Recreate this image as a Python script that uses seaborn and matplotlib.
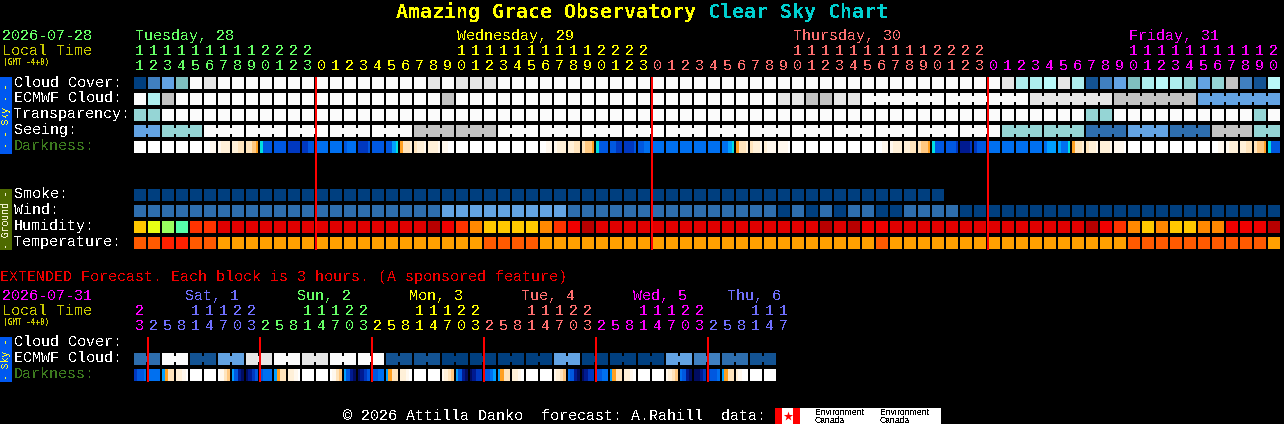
import matplotlib
matplotlib.use("Agg")
import matplotlib.pyplot as plt
import numpy as np
import seaborn as sns
from matplotlib.colors import ListedColormap
from matplotlib.patches import Rectangle

sns.set_theme(style="dark")
plt.rcParams["font.family"] = ["Liberation Mono", "DejaVu Sans Mono"]
plt.rcParams["text.antialiased"] = False

W, H = 1284, 424

# colour levels
SKY_COLORS = ["#003f7f", "#135393", "#2e6eae", "#4080c0", "#63a3e3", "#7fbfbf",
              "#95d5d5", "#aeeeee", "#b9f9f9", "#c2c2c2", "#e6e6e6", "#fbfbfb"]
HUMIDITY_COLORS = ["#b80000", "#e00000", "#f00000", "#ff3300", "#ff8800",
                   "#ffc800", "#e8ff14", "#99ff5f", "#55ffaa"]
TEMP_COLORS = ["#ff2000", "#ff5a00", "#ffa000"]
DARK_LEVELS = "wcdefgtsbmnkv"
DARK_COLORS = ["#ffffff", "#fff8ee", "#fff0d8", "#ffe4bc", "#ffc880", "#ffa020",
               "#00e0e0", "#00a0ff", "#0070f0", "#0058e0", "#0038c0", "#001a90",
               "#000c60"]

# main chart, one value per hour
HOURS = [11, 12, 13, 14, 15, 16, 17, 18, 19, 20, 21, 22, 23,
         0, 1, 2, 3, 4, 5, 6, 7, 8, 9, 10, 11, 12, 13, 14, 15, 16, 17, 18, 19, 20, 21, 22, 23,
         0, 1, 2, 3, 4, 5, 6, 7, 8, 9, 10, 11, 12, 13, 14, 15, 16, 17, 18, 19, 20, 21, 22, 23,
         0, 1, 2, 3, 4, 5, 6, 7, 8, 9, 10, 11, 12, 13, 14, 15, 16, 17, 18, 19, 20]
CLOUD = [0, 3, 4, 5, 11, 10, 11, 11, 11, 11, 11, 11, 11,
         11, 11, 11, 11, 11, 11, 11, 11, 10, 11, 10, 10, 10, 11, 11, 11, 11, 11, 11, 11, 11, 11, 11, 11,
         11, 11, 11, 11, 11, 11, 11, 11, 11, 11, 11, 11, 11, 11, 11, 11, 11, 11, 11, 11, 11, 11, 11, 11,
         11, 10, 7, 7, 8, 10, 7, 1, 3, 4, 5, 7, 8, 7, 6, 4, 6, 9, 3, 1, 8]
ECMWF = [11, 7, 9, 11, 11, 11, 11, 11, 11, 11, 11, 11, 11,
         11, 11, 11, 11, 11, 11, 11, 11, 11, 9, 11, 11, 11, 11, 11, 11, 11, 11, 11, 11, 11, 11, 11, 11,
         11, 11, 11, 11, 11, 11, 11, 11, 11, 10, 10, 9, 9, 10, 10, 11, 11, 11, 11, 11, 11, 11, 11, 11,
         11, 11, 11, 10, 10, 10, 10, 10, 10, 9, 9, 9, 9, 9, 9, 4, 4, 4, 4, 4, 4]
TRANSPARENCY = [6, 6, 11, 11, 11, 11, 11, 11, 11, 11, 11, 11, 11,
                11, 11, 11, 11, 11, 11, 11, 11, 11, 11, 11, 11, 11, 11, 11, 11, 11, 11, 11, 11, 11, 11, 11, 11,
                11, 11, 11, 11, 11, 11, 11, 11, 11, 11, 11, 11, 11, 11, 11, 11, 11, 11, 11, 11, 11, 11, 11, 11,
                11, 11, 11, 11, 11, 11, 11, 6, 6, 11, 11, 11, 11, 11, 11, 11, 11, 11, 11, 6, 11]
SEEING = [4, 4, 6, 6, 6, 11, 11, 11, 11, 11, 11, 11, 11,
          11, 11, 11, 11, 11, 11, 11, 9, 9, 9, 9, 9, 9, 11, 11, 11, 11, 11, 11, 11, 11, 11, 11, 11,
          11, 11, 11, 11, 11, 11, 11, 11, 11, 11, 11, 11, 11, 11, 11, 11, 11, 11, 11, 11, 11, 11, 11, 11,
          11, 6, 6, 6, 6, 6, 6, 2, 2, 2, 4, 4, 4, 2, 2, 2, 9, 9, 9, 6, 6]
DARK_TUE = ("wwww wwww wwww wwww wwww wwcc cddd ddee eefg tmmm mmmm nnnn nnmm").split()
DARK_WED = ("bbbb bbbb mbbb nnnm mmmm mmst geed eddc dddc ccww wwww wwww "
            "wwww wwww wwww wwww wwcc cddd ddee effg tmmm mmnn nnnm mmbb").split()
DARK_THU = ("bbbb bbbb bbbb bbbb bbbb bbst geed eddc dccc cccw wwww wwww "
            "wwww wwww wwww wwww wwcc cddd ddee effg tmmm mmmn kkkn nmmm").split()
DARK_FRI = ("bbbb bbbb bbbb bbbb bsss sbbt geed eddc dddc cccw wwww wwww "
            "wwww wwww wwww wwww wwcc cddd ddee effg tmmm").split()
SMOKE = [0] * 58 + [np.nan] * 24
WIND = [2, 2, 2, 2, 2, 2, 2, 2, 2, 2, 2, 2, 2,
        2, 2, 2, 2, 2, 2, 2, 2, 2, 4, 4, 4, 4, 4, 4, 4, 4, 4, 2, 2, 2, 2, 2, 2,
        2, 2, 2, 2, 2, 2, 2, 2, 2, 0, 2, 0, 2, 0, 2, 2, 0, 0, 2, 2, 2, 2, 0, 0,
        0, 0, 0, 0, 0, 0, 0, 0, 0, 0, 0, 0, 0, 0, 0, 0, 0, 0, 0, 0, 0]
HUMIDITY = [5, 6, 7, 8, 3, 3, 1, 1, 1, 1, 1, 1, 1,
            1, 1, 1, 1, 1, 1, 1, 1, 0, 2, 3, 4, 5, 5, 5, 5, 4, 3, 2, 0, 1, 1, 1, 1,
            1, 1, 1, 1, 1, 1, 1, 1, 1, 1, 1, 1, 0, 1, 0, 2, 2, 1, 1, 1, 1, 1, 1, 1,
            1, 1, 1, 1, 1, 1, 1, 0, 2, 3, 4, 5, 4, 5, 5, 4, 4, 2, 2, 2, 0]
TEMPERATURE = [1, 1, 0, 0, 1, 1, 2, 2, 2, 2, 2, 2, 2,
               2, 2, 2, 2, 2, 2, 2, 2, 2, 2, 2, 2, 1, 1, 1, 1, 2, 2, 2, 2, 2, 2, 2, 2,
               2, 2, 2, 2, 2, 2, 2, 2, 2, 2, 2, 2, 2, 2, 2, 2, 1, 2, 2, 2, 2, 2, 2, 2,
               2, 2, 2, 2, 2, 2, 2, 2, 2, 2, 1, 1, 1, 1, 1, 1, 1, 1, 1, 1, 2]
# how many blocks are joined together
ECMWF_RUNS = [1] * 52 + [6, 6, 6, 6, 6]
SEEING_RUNS = [2] + [3] * 26 + [2]

# extended forecast, one value per 3 hours
EXT_HOURS = [23, 2, 5, 8, 11, 14, 17, 20, 23, 2, 5, 8, 11, 14, 17, 20, 23,
             2, 5, 8, 11, 14, 17, 20, 23, 2, 5, 8, 11, 14, 17, 20, 23,
             2, 5, 8, 11, 14, 17, 20, 23, 2, 5, 8, 11, 14, 17]
EXT_ECMWF = [2, 2, 11, 11, 1, 1, 4, 4, 10, 10, 11, 11, 10, 10, 11, 11, 11, 11, 1, 1,
             1, 1, 0, 0, 0, 0, 0, 0, 0, 0, 4, 4, 0, 0, 0, 0, 0, 0, 4, 4, 3, 3, 2, 2, 1, 1]
EXT_DARK = ("nmmb bbbb sgee ddcw wwww wwww wcef smkv vknm mbbb sgee ddcw wwww wwww wcef smkv "
            "vknm mmbb sgee ddcw wwww wwww cdef smkv vknn mmbs sgee ddcw wwww wwww cdef bmkv "
            "vknn mmbb sgee ddcw wwww wwww cdef bmkv vvkn nmmb sgee dcww wwww wwww").split()
EXT_RUNS = [2] * 23

# text
TUE_GREEN, WED_YELLOW, THU_SALMON, FRI_MAGENTA, SAT_BLUE = "#66ff66", "#ffff00", "#ff7070", "#ff00ff", "#7070ff"
MAIN_DAYS = ["Tuesday, 28", "Wednesday, 29", "Thursday, 30", "Friday, 31"]
MAIN_DAY_COLORS = [TUE_GREEN, WED_YELLOW, THU_SALMON, FRI_MAGENTA]
EXT_DAYS = ["Sat, 1", "Sun, 2", "Mon, 3", "Tue, 4", "Wed, 5", "Thu, 6"]
EXT_DAY_COLORS = [FRI_MAGENTA, SAT_BLUE, TUE_GREEN, WED_YELLOW, THU_SALMON, FRI_MAGENTA, SAT_BLUE]

LEFT, PITCH = 134, 14


def dark_codes(cols):
    return [[DARK_LEVELS.index(ch) for ch in col] for col in cols]


def runs_to_joins(runs):
    joins, pos = set(), 0
    for run in runs:
        joins.update(range(pos + 1, pos + run))
        pos += run
    return joins


def row(top, values, colors, runs=None, sub=1):
    """One row of blocks: a heatmap 12 px tall, gaps drawn over it in black."""
    values = np.array(values, dtype=float).reshape(1, -1)
    n = values.shape[1] // sub
    ax = fig.add_axes([(LEFT - 1) / W, 1 - (top + 12) / H, n * PITCH / W, 12 / H])
    sns.heatmap(values, ax=ax, cmap=ListedColormap(colors), vmin=-0.5,
                vmax=len(colors) - 0.5, cbar=False, xticklabels=False, yticklabels=False)
    ax.set_facecolor("black")
    joins = runs_to_joins(runs) if runs else set()
    for i in range(n + 1):
        if i in joins:
            ax.vlines([i * sub] * 2, [0, 0.75], [0.25, 1], color="black", lw=1.44,
                      capstyle="butt", antialiased=False)
        else:
            ax.vlines(i * sub, 0, 1, color="black", lw=1.44, capstyle="butt", antialiased=False)
    return ax


def day_index(hours):
    days, d = [], 0
    for i, h in enumerate(hours):
        if i and h < hours[i - 1]:
            d += 1
        days.append(d)
    return days


fig = plt.figure(figsize=(W / 100, H / 100), dpi=100, facecolor="black")

row(77, CLOUD, SKY_COLORS)
row(93, ECMWF, SKY_COLORS, ECMWF_RUNS)
row(109, TRANSPARENCY, SKY_COLORS)
row(125, SEEING, SKY_COLORS, SEEING_RUNS)
row(141, dark_codes(DARK_TUE + DARK_WED + DARK_THU + DARK_FRI), DARK_COLORS, sub=4)
row(189, SMOKE, SKY_COLORS)
row(205, WIND, SKY_COLORS)
row(221, HUMIDITY, HUMIDITY_COLORS)
row(237, TEMPERATURE, TEMP_COLORS)
row(353, EXT_ECMWF, SKY_COLORS, EXT_RUNS)
row(369, dark_codes(EXT_DARK), DARK_COLORS, sub=4)

# overlay in pixel coordinates for the text, side bars and midnight lines
top = fig.add_axes([0, 0, 1, 1])
top.set_xlim(0, W)
top.set_ylim(H, 0)
top.axis("off")
top.patch.set_visible(False)


def label(x, y, s, color="white", size=10.8, **kw):
    top.text(x, y, s, color=color, fontsize=size, va="baseline", **kw)


def hour_labels(hours, colors, y_tens, y_ones):
    days = day_index(hours)
    for i, h in enumerate(hours):
        x = LEFT + PITCH * i + 5.5
        c = colors[days[i]]
        if h >= 10:
            label(x, y_tens, str(h // 10), c, ha="center")
        label(x, y_ones, str(h % 10), c, ha="center")


def midnight_lines(hours, y0, y1):
    for i in range(1, len(hours)):
        if hours[i] < hours[i - 1]:
            top.vlines(LEFT + PITCH * i, y0, y1, color="#ff0000", lw=1.44,
                       capstyle="butt", antialiased=False)


# title
label(396, 18, "Amazing Grace Observatory", "#ffff00", 14.4, fontweight="bold", family="DejaVu Sans Mono")
label(708, 18, "Clear Sky Chart", "#00d0d0", 14.4, fontweight="bold", family="DejaVu Sans Mono")

# main header
label(2, 40, "2026-07-28", TUE_GREEN)
label(2, 55, "Local Time", "#c8c800")
label(3, 65, "(GMT -4+0)", "#c8c800", 5.6, fontweight="bold", family="DejaVu Sans Mono")
for x, s, c in zip([135, 457, 793, 1129], MAIN_DAYS, MAIN_DAY_COLORS):
    label(x, 40, s, c)
hour_labels(HOURS, MAIN_DAY_COLORS, 55, 70)

for y, s in zip([87, 102, 118, 134], ["Cloud Cover:", "ECMWF Cloud:", "Transparency:", "Seeing:"]):
    label(14, y, s)
label(14, 150, "Darkness:", "#3c7a1e")
for y, s in zip([198, 214, 230, 246], ["Smoke:", "Wind:", "Humidity:", "Temperature:"]):
    label(14, y, s)

# extended header
label(0, 281, "EXTENDED Forecast. Each block is 3 hours. (A sponsored feature)", "#f00000")
label(2, 300, "2026-07-31", FRI_MAGENTA)
label(2, 315, "Local Time", "#c8c800")
label(3, 325, "(GMT -4+0)", "#c8c800", 5.6, fontweight="bold", family="DejaVu Sans Mono")
for x, s, c in zip([185, 297, 409, 521, 633, 727], EXT_DAYS, EXT_DAY_COLORS[1:]):
    label(x, 300, s, c)
hour_labels(EXT_HOURS, EXT_DAY_COLORS, 315, 330)
label(14, 346, "Cloud Cover:")
label(14, 362, "ECMWF Cloud:")
label(14, 378, "Darkness:", "#3c7a1e")

# side bars
for y0, y1, bar, ink, s in [(77, 154, "#0058f0", "#ffff30", "- - Sky - -"),
                            (189, 250, "#4e6a00", "#f0f0d0", "- Ground -"),
                            (337, 382, "#0058f0", "#ffff30", "- Sky -")]:
    top.add_patch(Rectangle((0, y0), 12, y1 - y0, color=bar, lw=0))
    top.text(6, (y0 + y1) / 2, s, color=ink, fontsize=7, rotation=90, ha="center", va="center")

midnight_lines(HOURS, 77, 250)
midnight_lines(EXT_HOURS, 337, 382)

# footer
label(343, 420, "\u00a9 2026 Attilla Danko  forecast: A.Rahill  data:")
top.add_patch(Rectangle((775, 408), 166, 16, color="white", lw=0))
top.add_patch(Rectangle((775, 408), 7, 16, color="#ff0000", lw=0))
top.add_patch(Rectangle((793, 408), 7, 16, color="#ff0000", lw=0))
top.scatter([787.5], [416], marker="*", s=50, color="#ff0000", lw=0)
for x in [815, 880]:
    top.text(x, 415, "Environment", color="black", fontsize=6.2, family="Liberation Sans", va="baseline")
    top.text(x, 423, "Canada", color="black", fontsize=6.2, family="Liberation Sans", va="baseline")

fig.savefig("out.png", dpi=100, facecolor="black")
